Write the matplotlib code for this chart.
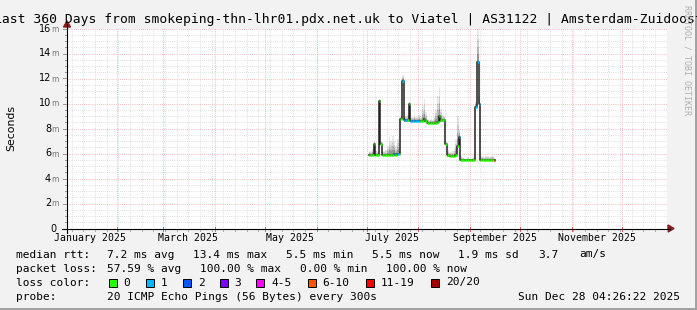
import datetime as dt
import matplotlib
matplotlib.use("Agg")
import matplotlib.pyplot as plt
from matplotlib.patches import Rectangle, Polygon
from matplotlib.lines import Line2D

W, H = 697, 310

# time frame of the graph
start = dt.datetime(2025, 1, 2, 4, 26, 22)
span_days = 360

title = "Last 360 Days from smokeping-thn-lhr01.pdx.net.uk to Viatel | AS31122 | Amsterdam-Zuidoost"

# one sample per day, first sample is day 181 after start
first_day = 181
median_ms = [5.9, 5.9, 5.9, 6.8, 5.9, 5.9, 10.2, 6.8, 5.9, 5.9,
             5.9, 5.9, 5.9, 5.9, 5.9, 6.0, 5.9, 6.0, 5.95, 8.75,
             11.8, 8.65, 8.65, 8.65, 9.95, 8.6, 8.6, 8.6, 8.6, 8.6,
             8.6, 8.6, 8.6, 8.75, 8.6, 8.45, 8.45, 8.45, 8.45, 8.45,
             8.45, 8.5, 9.0, 8.65, 8.65, 8.65, 6.75, 5.85, 5.8, 5.8,
             5.8, 5.8, 5.85, 6.6, 7.35, 5.5, 5.5, 5.5, 5.5, 5.5,
             5.5, 5.5, 5.5, 5.5, 9.75, 13.3, 10.0, 5.5, 5.5, 5.5,
             5.5, 5.5, 5.5, 5.5, 5.5, 5.5]
smoke_top_ms = [6.2, 6.2, 6.4, 7.0, 6.3, 6.2, 10.4, 7.0, 6.2, 6.2,
                6.3, 6.6, 7.3, 7.0, 7.4, 7.0, 6.6, 7.2, 6.5, 9.0,
                12.3, 9.0, 9.0, 9.1, 10.2, 9.0, 8.9, 9.1, 8.9, 9.0,
                9.2, 9.0, 9.8, 10.4, 9.3, 8.8, 8.7, 8.8, 8.7, 9.0,
                9.6, 10.6, 11.3, 9.6, 9.1, 9.0, 7.0, 6.3, 6.1, 6.1,
                6.2, 6.4, 7.2, 9.0, 8.0, 5.8, 5.7, 5.6, 5.6, 5.7,
                5.6, 5.6, 5.7, 5.8, 10.2, 16.5, 10.6, 5.8, 5.8, 5.7,
                5.8, 5.8, 5.7, 5.8, 5.8, 5.7]
lost_pings = [0, 0, 0, 0, 0, 0, 0, 0, 0, 0,
              0, 0, 0, 0, 0, 1, 0, 1, 0, 0,
              1, 1, 1, 0, 0, 1, 1, 1, 1, 1,
              1, 0, 0, 0, 0, 0, 0, 0, 0, 0,
              0, 0, 0, 0, 0, 0, 0, 0, 0, 0,
              0, 0, 0, 0, 1, 0, 0, 0, 0, 0,
              0, 0, 0, 0, 1, 1, 1, 0, 0, 0,
              0, 0, 0, 0, 0, 15]

loss_labels = ["0", "1", "2", "3", "4-5", "6-10", "11-19", "20/20"]
loss_colors = ["#26ff00", "#00b8ff", "#0059ff", "#7e00ff", "#ff00ff",
               "#ff5500", "#ff0000", "#a10000"]

month_labels = ["January 2025", "March 2025", "May 2025", "July 2025",
                "September 2025", "November 2025"]
y_ticks = [0, 2, 4, 6, 8, 10, 12, 14, 16]

stats_rows = [
    ("median rtt:", ["7.2 ms avg", "13.4 ms max", "5.5 ms min", "5.5 ms now",
                     "1.9 ms sd", "3.7", "am/s"]),
    ("packet loss:", ["57.59 % avg", "100.00 % max", "0.00 % min", "100.00 % now"]),
]
probe_text = "20 ICMP Echo Pings (56 Bytes) every 300s"
stamp_text = "Sun Dec 28 04:26:22 2025"


def loss_bucket(n):
    if n <= 3:
        return n
    if n <= 5:
        return 4
    if n <= 10:
        return 5
    if n <= 19:
        return 6
    return 7


def days(d):
    return (d - start).total_seconds() / 86400.0


def px(x, y):
    return (x / W, 1 - y / H)


BG = "#f2f2f2"
fig = plt.figure(figsize=(W / 100, H / 100), dpi=100, facecolor=BG)
ax = fig.add_axes([67 / W, (H - 228.5) / H, 600 / W, 200 / H])
ax.set_facecolor("white")
ax.set_xlim(0, span_days)
ax.set_ylim(0, 16)
for s in ax.spines.values():
    s.set_visible(False)
ax.set_xticks([])
ax.set_yticks([])

dot = dict(lw=0.7, dashes=(0.72, 1.44))
# minor horizontal grid every 0.5 ms, major every 2 ms
for k in range(1, 33):
    v = k * 0.5
    if k % 4 == 0:
        ax.axhline(v, color="#f2a0a0", zorder=1, **dot)
    else:
        ax.axhline(v, color="#d4d4d4", zorder=1, **dot)

# weekly lines (sundays) and month lines
sunday = dt.datetime(2025, 1, 5)
while days(sunday) < span_days:
    ax.axvline(days(sunday), color="#d4d4d4", zorder=1, **dot)
    fig.add_artist(Line2D([px(67 + days(sunday) * 600 / span_days, 0)[0]] * 2,
                          [px(0, 228.5)[1], px(0, 230.5)[1]], color="#aaaaaa", lw=0.7))
    sunday += dt.timedelta(days=7)

month_starts = [dt.datetime(2025, m, 1) for m in range(2, 13)]
for m in month_starts:
    ax.axvline(days(m), color="#f2a0a0", zorder=1, **dot)
    xx = px(67 + days(m) * 600 / span_days, 0)[0]
    fig.add_artist(Line2D([xx, xx], [px(0, 226.5)[1], px(0, 231)[1]], color="#e06060", lw=0.7))

# y ticks on axis
for k in range(0, 33):
    yy = px(0, 228.5 - k * 6.25)[1]
    x0 = 63 if k % 4 == 0 else 65
    fig.add_artist(Line2D([px(x0, 0)[0], px(67, 0)[0]], [yy, yy], color="#999999", lw=0.7))

# smoke
t0 = [first_day + i for i in range(len(median_ms))]
for i, d in enumerate(t0):
    med = median_ms[i]
    top = min(smoke_top_ms[i], 16)
    for frac, a in [(1.0, 0.09), (0.7, 0.1), (0.45, 0.13), (0.25, 0.18)]:
        ax.fill_between([d, d + 1], med - 0.1, med + (top - med) * frac,
                        color="#000000", alpha=a, lw=0, zorder=2)

# median line: black steps, then loss colour on the flat parts
xs = t0 + [t0[-1] + 1]
ys = median_ms + [median_ms[-1]]
ax.step(xs, ys, where="post", color="#202020", lw=1.1, zorder=3)
for i, d in enumerate(t0):
    c = loss_colors[loss_bucket(lost_pings[i])]
    ax.hlines(median_ms[i], d, d + 1, color=c, lw=1.8, zorder=4)

# axes lines with arrows
fig.add_artist(Line2D([px(62, 0)[0], px(670, 0)[0]], [px(0, 228.5)[1]] * 2, color="black", lw=0.8))
fig.add_artist(Line2D([px(67, 0)[0]] * 2, [px(0, 233)[1], px(0, 24)[1]], color="black", lw=0.8))
arrow_c = "#8b1a1a"
fig.add_artist(Polygon([px(668, 225), px(674, 228.5), px(668, 232)], closed=True,
                       color=arrow_c, transform=fig.transFigure))
fig.add_artist(Polygon([px(63.5, 27), px(67, 21), px(70.5, 27)], closed=True,
                       color=arrow_c, transform=fig.transFigure))

mono = "DejaVu Sans Mono"
fig.text(*px(348.5, 19), title, family=mono, fontsize=9.4, ha="center", va="center")

# y labels
for v in y_ticks:
    y = 228.5 - v * 12.5
    if v == 0:
        fig.text(*px(57, y), "0", fontsize=7, ha="right", va="center")
    else:
        fig.text(*px(51, y), str(v), fontsize=7, ha="right", va="center")
        fig.text(*px(59, y + 0.5), "m", fontsize=5.5, ha="right", va="center", color="#777777")
fig.text(*px(11, 128), "Seconds", fontsize=7.8, rotation=90, ha="center", va="center")

# month labels at the 16th of each month
for lab in month_labels:
    d = dt.datetime.strptime(lab, "%B %Y") + dt.timedelta(days=15)
    fig.text(*px(67 + days(d) * 600 / span_days, 238), lab, family=mono, fontsize=7.1,
             ha="center", va="center")

fig.text(*px(687, 5), "RRDTOOL / TOBI OETIKER", family=mono, fontsize=6, rotation=270,
         ha="center", va="top", color="#b0b0b0")

# legend
lf = 8.0
row_y = [254.5, 268.5, 282.5, 296.5]
stat_x = [[107, 193, 286.5, 372.5, 458, 538, 579], [107, 200, 300, 386]]
for r, (head, items) in enumerate(stats_rows):
    fig.text(*px(16, row_y[r]), head, family=mono, fontsize=lf, va="center")
    for x, s in zip(stat_x[r], items):
        fig.text(*px(x, row_y[r]), s, family=mono, fontsize=lf, va="center")

fig.text(*px(16, row_y[2]), "loss color:", family=mono, fontsize=lf, va="center")
box_x = [108.5, 146, 183, 219.5, 256, 307.5, 366, 431]
for x, lab, c in zip(box_x, loss_labels, loss_colors):
    fig.add_artist(Rectangle(px(x, row_y[2] + 4), 8 / W, 8 / H, facecolor=c,
                             edgecolor="black", lw=0.7, transform=fig.transFigure))
    fig.text(*px(x + 15, row_y[2]), lab, family=mono, fontsize=lf, va="center")

fig.text(*px(16, row_y[3]), "probe:", family=mono, fontsize=lf, va="center")
fig.text(*px(107, row_y[3]), probe_text, family=mono, fontsize=lf, va="center")
fig.text(*px(680, row_y[3]), stamp_text, family=mono, fontsize=lf, va="center", ha="right")

# frame
fig.add_artist(Line2D([0, 1], [px(0, 309)[1]] * 2, color="#a0a0a0", lw=1.4))
fig.add_artist(Line2D([px(696, 0)[0]] * 2, [0, 1], color="#a0a0a0", lw=1.4))

fig.savefig("out.png", dpi=100, facecolor=BG)
